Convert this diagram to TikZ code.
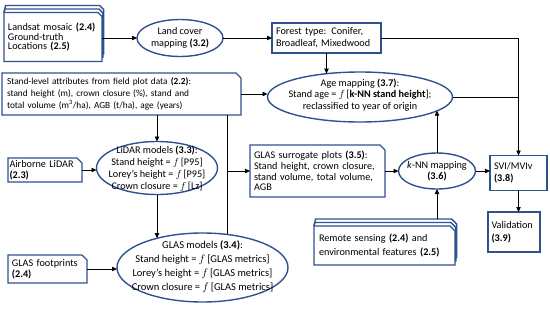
\documentclass[tikz,border=0pt]{standalone}
\usepackage{fontspec}
\setmainfont{Carlito}
\usetikzlibrary{shapes.geometric,arrows.meta,calc}
\definecolor{bxblue}{RGB}{47,82,143}
\newcommand{\chambox}[4]{%
  \draw[bx] ([xshift=#3,yshift=#4]#1.south west) -- ([xshift=#3,yshift=#4]#1.north west)
   -- ([xshift=#3-#2,yshift=#4]#1.north east) -- ([xshift=#3,yshift=#4-#2]#1.north east)
   -- ([xshift=#3,yshift=#4]#1.south east) -- cycle;}
\newcommand{\backlayer}[4]{%
  \draw[bx] (#1.north west) -- ([xshift=#3,yshift=#4]#1.north west)
   -- ([xshift=#3-#2,yshift=#4]#1.north east) -- ([xshift=#3,yshift=#4-#2]#1.north east)
   -- ([xshift=#3,yshift=#4]#1.south east);}
\begin{document}
\begin{tikzpicture}[x=1pt,y=-1pt,font=\fontsize{10.2}{11.5}\selectfont,
  bx/.style={draw=bxblue,line width=1.4pt,line join=miter},
  box/.style={inner ysep=0pt,inner xsep=5pt,outer sep=0pt,align=left},
  rbox/.style={box,draw=bxblue,line width=1.4pt},
  ell/.style={ellipse,draw=bxblue,line width=1.4pt,inner sep=0pt,outer sep=0pt},
  arr/.style={-{Triangle[length=5pt,width=4.4pt]},line width=0.8pt},
  ln/.style={line width=0.8pt}]
\useasboundingbox (0,0) rectangle (550,317);

% nodes
\node[box,text width=90pt,inner xsep=4pt,minimum height=49pt,font=\fontsize{10.2}{9.8}\selectfont] (ls) at (53,37)
  {Landsat mosaic \textbf{(2.4)}\\Ground-truth\\Locations \textbf{(2.5)}};
\node[ell,minimum width=86pt,minimum height=37pt,
  label={[align=center,font=\fontsize{10.2}{12}\selectfont]center:Land cover\\mapping \textbf{(3.2)}}] (lc) at (180,38) {};
\node[rbox,text width=101pt,inner xsep=4pt,minimum height=30pt,font=\fontsize{10.2}{12}\selectfont] (ft) at (326.5,38)
  {Forest type: Conifer,\\Broadleaf, Mixedwood};
\node[box,text width=229pt,inner xsep=5pt,minimum height=42pt,font=\fontsize{9.3}{11.8}\selectfont] (sl) at (121.5,94)
  {Stand-level attributes from field plot data \textbf{(2.2)}:\\stand height (m), crown closure (\%), stand and\\total volume (m\textsuperscript{3}/ha), AGB (t/ha), age (years)};
\node[ell,minimum width=185pt,minimum height=50pt,
  label={[align=center,yshift=2pt,font=\fontsize{10.2}{11.5}\selectfont]center:Age mapping \textbf{(3.7)}:\\Stand age = $f$\,[\textbf{k-NN stand height}];\\reclassified to year of origin}] (age) at (360,97) {};
\node[box,text width=71pt,inner xsep=1.5pt,minimum height=24pt,font=\fontsize{10.2}{11}\selectfont] (ab) at (45,170)
  {Airborne LiDAR\\\textbf{(2.3)}};
\node[ell,minimum width=121pt,minimum height=53pt,
  label={[align=center,yshift=-1pt,font=\fontsize{10.2}{12}\selectfont]center:LiDAR models \textbf{(3.3)}:\\Stand height = $f$\,[P95]\\Lorey’s height = $f$\,[P95]\\Crown closure = $f$\,[Lz]}] (lid) at (157,168) {};
\node[box,text width=127pt,inner xsep=4pt,minimum height=52pt,font=\fontsize{10.2}{10.8}\selectfont] (gs) at (317.5,171)
  {GLAS surrogate plots \textbf{(3.5)}:\\Stand height,\ crown closure,\\stand volume, total volume,\\AGB};
\node[ell,minimum width=77pt,minimum height=36pt,
  label={[align=center,font=\fontsize{10.2}{11.5}\selectfont]center:\textit{k}-NN mapping\\\textbf{(3.6)}}] (knn) at (437,171) {};
\node[rbox,text width=49pt,inner xsep=4pt,minimum height=35pt,font=\fontsize{10.2}{12}\selectfont] (svi) at (518.5,173)
  {SVI/MVIv\\\textbf{(3.8)}};
\node[rbox,text width=45pt,inner xsep=3.5pt,minimum height=40pt,font=\fontsize{10.2}{13}\selectfont] (val) at (514,232)
  {Validation\\\textbf{(3.9)}};
\node[ell,minimum width=171pt,minimum height=69pt,
  label={[align=center,yshift=1pt,font=\fontsize{10.5}{14}\selectfont]center:GLAS models \textbf{(3.4)}:\\Stand height = $f$\,[GLAS metrics]\\Lorey’s height = $f$\,[GLAS metrics]\\Crown closure = $f$\,[GLAS metrics]}] (gm) at (202.5,267.5) {};
\node[box,text width=71pt,inner xsep=4pt,minimum height=28pt,font=\fontsize{10.2}{11}\selectfont] (gf) at (47.5,269)
  {GLAS footprints\\\textbf{(2.4)}};
\node[box,text width=131pt,inner xsep=5pt,minimum height=39pt,font=\fontsize{10.2}{13.5}\selectfont] (rs) at (384.5,245.5)
  {Remote sensing \textbf{(2.4)} and\\environmental features \textbf{(2.5)}};

% outlines
\backlayer{ls}{4pt}{1.6pt}{7pt}
\backlayer{ls}{4pt}{0.8pt}{3.5pt}
\chambox{ls}{4pt}{0pt}{0pt}
\chambox{sl}{5pt}{0pt}{0pt}
\chambox{ab}{5pt}{0pt}{0pt}
\chambox{gf}{5pt}{0pt}{0pt}
\chambox{gs}{5pt}{0pt}{0pt}
\backlayer{rs}{5pt}{1.6pt}{7pt}
\backlayer{rs}{5pt}{0.8pt}{3.5pt}
\chambox{rs}{5pt}{0pt}{0pt}
\coordinate (rstop) at ([yshift=7pt]rs.north);

% connectors
\draw[arr] (ls.east |- lc.west) -- (lc.west);
\draw[arr] (lc.east) -- (lc.east -| ft.west);
\draw[arr] (ft.east) -| (svi.north);
\draw[ln] (age.east) -- (age.east -| svi.north);
\draw[arr] (ft.south) -- (ft.south |- age.145.2);
\draw[arr] (sl.east) -- (sl.east -| age.west);
\draw[arr] (sl.south -| lid.north) -- (lid.north);
\draw[ln] (sl.south -| gm.53.5) -- (gm.53.5);
\draw[arr] (gm.53.5 |- gs.west) -- (gs.west);
\draw[arr] (ab.east) -- (ab.east -| lid.west);
\draw[arr] (lid.south) -- (lid.south |- gm.147.3);
\draw[arr] (gf.east) -- (gf.east -| gm.west);
\draw[arr] (gs.east) -- (knn.west);
\draw[arr] (knn.north) -- (knn.north |- age.-10.2);
\draw[arr] (knn.east) -- (knn.east -| svi.west);
\draw[arr] (rstop -| knn.south) -- (knn.south);
\draw[arr] (svi.south) -- (svi.south |- val.north);
\end{tikzpicture}
\end{document}
